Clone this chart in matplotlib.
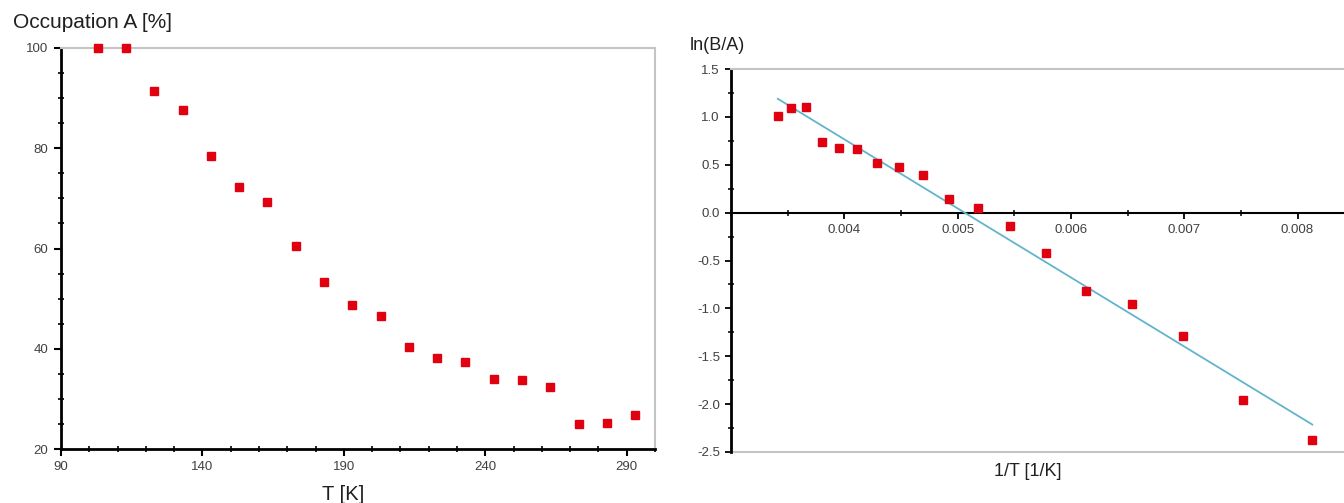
import numpy as np
from matplotlib import pyplot as plt
from matplotlib.ticker import MultipleLocator, FormatStrFormatter

plt.rcParams['font.family'] = ['Liberation Sans', 'DejaVu Sans']
plt.rcParams['axes.unicode_minus'] = False

# temperatures [K] and occupation of state A [%]
temps = [103, 113, 123, 133, 143, 153, 163, 173, 183, 193,
         203, 213, 223, 233, 243, 253, 263, 273, 283, 293]
occ_a = [100, 100, 91.5, 87.6, 78.4, 72.3, 69.3, 60.5, 53.4, 48.7,
         46.5, 40.3, 38.2, 37.3, 33.9, 33.7, 32.3, 24.9, 25.2, 26.8]

RED = '#e00010'
GRAY = '#c4c4c4'
TICK_TXT = '#404040'

temps_arr = np.array(temps, dtype=float)
occ_arr = np.array(occ_a, dtype=float)
mask = occ_arr < 100
inv_t = 1.0 / temps_arr[mask]
ln_ratio = np.log((100 - occ_arr[mask]) / occ_arr[mask])
slope, icept = np.polyfit(inv_t, ln_ratio, 1)
fit_x = np.array([inv_t.min(), inv_t.max()])

fig = plt.figure(figsize=(13.44, 5.03), dpi=100)

# left panel
ax1 = fig.add_axes([61 / 1344, 1 - 449 / 503, 594 / 1344, 401 / 503])
ax1.plot(temps, occ_a, 's', color=RED, ms=6, clip_on=False, zorder=5)
ax1.set_xlim(90, 300)
ax1.set_ylim(20, 100)
ax1.set_xticks([90, 140, 190, 240, 290])
ax1.set_yticks([20, 40, 60, 80, 100])
ax1.xaxis.set_minor_locator(MultipleLocator(10))
ax1.yaxis.set_minor_locator(MultipleLocator(5))
for s in ['top', 'right']:
    ax1.spines[s].set_color(GRAY)
    ax1.spines[s].set_linewidth(1.5)
for s in ['left', 'bottom']:
    ax1.spines[s].set_color('black')
    ax1.spines[s].set_linewidth(2)
ax1.tick_params(which='major', direction='out', length=5, width=1.5,
                labelsize=9.5, labelcolor=TICK_TXT, pad=4)
ax1.tick_params(which='minor', direction='inout', length=4, width=1.2)
fig.text(13 / 1344, 1 - 22 / 503, 'Occupation A [%]', fontsize=15,
         ha='left', va='center', color='#202020')
fig.text(343 / 1344, 1 - 494 / 503, 'T [K]', fontsize=14.5,
         ha='center', va='center', color='#202020')

# right panel
ax2 = fig.add_axes([731 / 1344, 1 - 452 / 503, 613 / 1344, 383 / 503])
ax2.plot(inv_t, ln_ratio, 's', color=RED, ms=6, clip_on=False, zorder=5)
ax2.plot(fit_x, slope * fit_x + icept, color='#62b4cc', lw=1.3, zorder=4)
ax2.set_xlim(0.003, 0.00841)
ax2.set_ylim(-2.5, 1.5)
ax2.set_xticks([0.004, 0.005, 0.006, 0.007, 0.008])
ax2.set_yticks(np.arange(-2.5, 1.51, 0.5))
ax2.xaxis.set_minor_locator(MultipleLocator(0.0005))
ax2.yaxis.set_minor_locator(MultipleLocator(0.25))
ax2.xaxis.set_major_formatter(FormatStrFormatter('%.3f'))
ax2.yaxis.set_major_formatter(FormatStrFormatter('%.1f'))
ax2.spines['right'].set_visible(False)
ax2.spines['top'].set_color(GRAY)
ax2.spines['top'].set_linewidth(1.5)
ax2.spines['bottom'].set_position(('data', 0))
ax2.spines['bottom'].set_color('black')
ax2.spines['bottom'].set_linewidth(1.5)
ax2.spines['left'].set_color('black')
ax2.spines['left'].set_linewidth(2)
ax2.axhline(-2.5, color=GRAY, lw=1.5, clip_on=False)
ax2.tick_params(which='major', direction='out', length=4, width=1.3,
                labelsize=9.5, labelcolor=TICK_TXT, pad=4)
ax2.tick_params(which='minor', direction='inout', length=4, width=1.1)
fig.text(690 / 1344, 1 - 45 / 503, 'ln(B/A)', fontsize=13,
         ha='left', va='center', color='#202020')
fig.text(1028 / 1344, 1 - 472 / 503, '1/T [1/K]', fontsize=13,
         ha='center', va='center', color='#202020')

fig.savefig('out.png', dpi=100)
plt.close(fig)
